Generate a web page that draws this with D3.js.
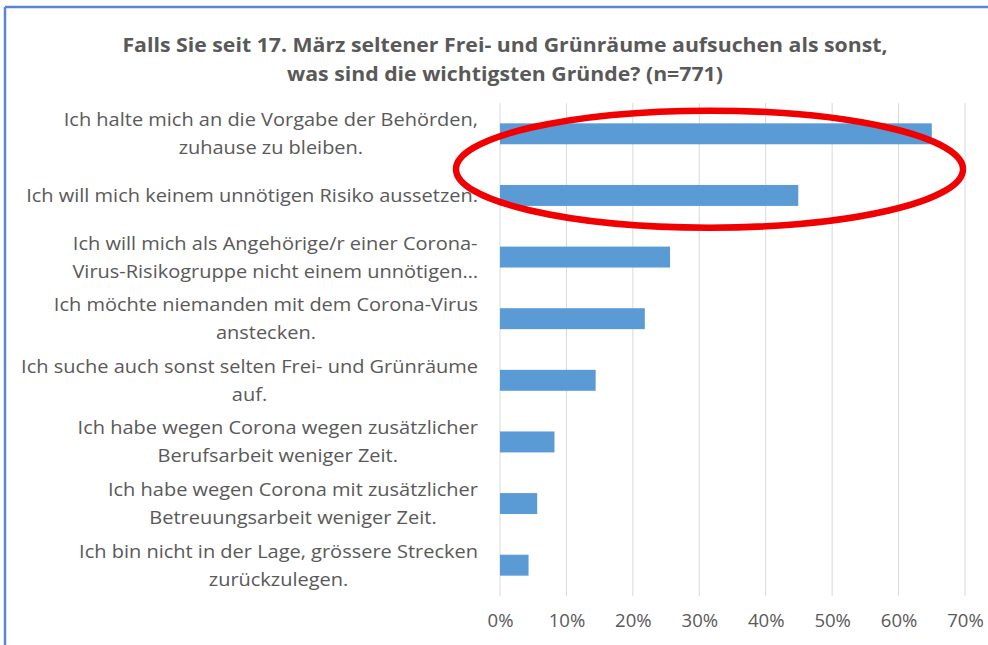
<!DOCTYPE html>
<html>
<head>
<meta charset="utf-8">
<script src="https://cdn.jsdelivr.net/npm/d3@7"></script>
<style>
  html, body { margin: 0; padding: 0; background: #fff; }
  svg { display: block; }
</style>
</head>
<body>
<svg id="chart" width="988" height="645"></svg>
<script>
const titleLines = [
  "Falls Sie seit 17. März seltener Frei- und Grünräume aufsuchen als sonst,",
  "was sind die wichtigsten Gründe? (n=771)"
];
const categories = [
  ["Ich halte mich an die Vorgabe der Behörden,", "zuhause zu bleiben."],
  ["Ich will mich keinem unnötigen Risiko aussetzen."],
  ["Ich will mich als Angehörige/r einer Corona-", "Virus-Risikogruppe nicht einem unnötigen…"],
  ["Ich möchte niemanden mit dem Corona-Virus", "anstecken."],
  ["Ich suche auch sonst selten Frei- und Grünräume", "auf."],
  ["Ich habe wegen Corona wegen zusätzlicher", "Berufsarbeit weniger Zeit."],
  ["Ich habe wegen Corona mit zusätzlicher", "Betreuungsarbeit weniger Zeit."],
  ["Ich bin nicht in der Lage, grössere Strecken", "zurückzulegen."]
];
const values = [65.0, 44.9, 25.6, 21.8, 14.4, 8.2, 5.6, 4.3];
const tickValues = [0, 10, 20, 30, 40, 50, 60, 70];
const tickLabels = ["0%", "10%", "20%", "30%", "40%", "50%", "60%", "70%"];
const highlighted = [0, 1];

const svg = d3.select("#chart");
const font = "'Open Sans', 'DejaVu Sans', sans-serif";
const textColor = "#595959";

function stretch(sel, factor) {
  sel.each(function() {
    const w = this.getComputedTextLength();
    d3.select(this).attr("textLength", w * factor).attr("lengthAdjust", "spacingAndGlyphs");
  });
}

// frame lines (top & left)
svg.append("line").attr("x1", 5).attr("x2", 988).attr("y1", 7).attr("y2", 7)
  .attr("stroke", "#5b84d6").attr("stroke-width", 2.5);
svg.append("line").attr("x1", 5).attr("x2", 5).attr("y1", 7).attr("y2", 645)
  .attr("stroke", "#5b84d6").attr("stroke-width", 2.5);

const x = d3.scaleLinear().domain([0, 70]).range([500, 965]);
const y = d3.scaleBand().domain(d3.range(categories.length)).range([103, 596]).paddingInner(0.66).paddingOuter(0.33);

// title
const titleT = svg.append("g").selectAll("text").data(titleLines).join("text")
  .attr("x", 505).attr("y", (d, i) => 52 + i * 29)
  .attr("text-anchor", "middle")
  .attr("font-family", font).attr("font-weight", "bold").attr("font-size", 19.5)
  .attr("fill", textColor)
  .text(d => d);
stretch(titleT, 1.09);

// gridlines
svg.append("g").selectAll("line").data(tickValues).join("line")
  .attr("x1", d => x(d)).attr("x2", d => x(d))
  .attr("y1", 103).attr("y2", 596)
  .attr("stroke", "#d9d9d9").attr("stroke-width", 1);

// x axis tick labels
const xAxis = d3.axisBottom(x).tickValues(tickValues).tickFormat((d, i) => tickLabels[i]).tickSize(0).tickPadding(0);
const gx = svg.append("g").attr("transform", "translate(0,609)").call(xAxis);
gx.select(".domain").remove();
const tickT = gx.selectAll("text").attr("font-family", font).attr("font-size", 17.5).attr("fill", textColor).attr("dy", "1em");
stretch(tickT, 1.06);

// bars
svg.append("g").selectAll("rect").data(values).join("rect")
  .attr("x", x(0)).attr("y", (d, i) => y(i))
  .attr("width", d => x(d) - x(0)).attr("height", y.bandwidth())
  .attr("fill", "#5b9bd5");

// category labels: centered blocks, right-aligned to axis
const labelG = svg.append("g");
categories.forEach((lines, i) => {
  const cy = y(i) + y.bandwidth() / 2;
  const lh = 28;
  const g = labelG.append("g");
  const texts = g.selectAll("text").data(lines).join("text")
    .attr("y", (d, j) => cy + (j - (lines.length - 1) / 2) * lh)
    .attr("dy", "0.35em")
    .attr("text-anchor", "middle")
    .attr("font-family", font).attr("font-size", 18.5)
    .attr("fill", textColor)
    .text(d => d);
  stretch(texts, 1.08);
  let maxW = 0;
  texts.each(function() { maxW = Math.max(maxW, +this.getAttribute("textLength")); });
  texts.attr("x", 478 - maxW / 2);
});

// red highlight ellipse around the top two bars
const ey0 = y(highlighted[0]), ey1 = y(highlighted[1]) + y.bandwidth();
const ecx = (456 + 963) / 2, ecy = (ey0 + ey1) / 2 + 4.5;
svg.append("ellipse")
  .attr("cx", ecx).attr("cy", ecy)
  .attr("rx", (963 - 456) / 2).attr("ry", 58.5)
  .attr("fill", "none").attr("stroke", "#f00000").attr("stroke-width", 6.5);
</script>
</body>
</html>
